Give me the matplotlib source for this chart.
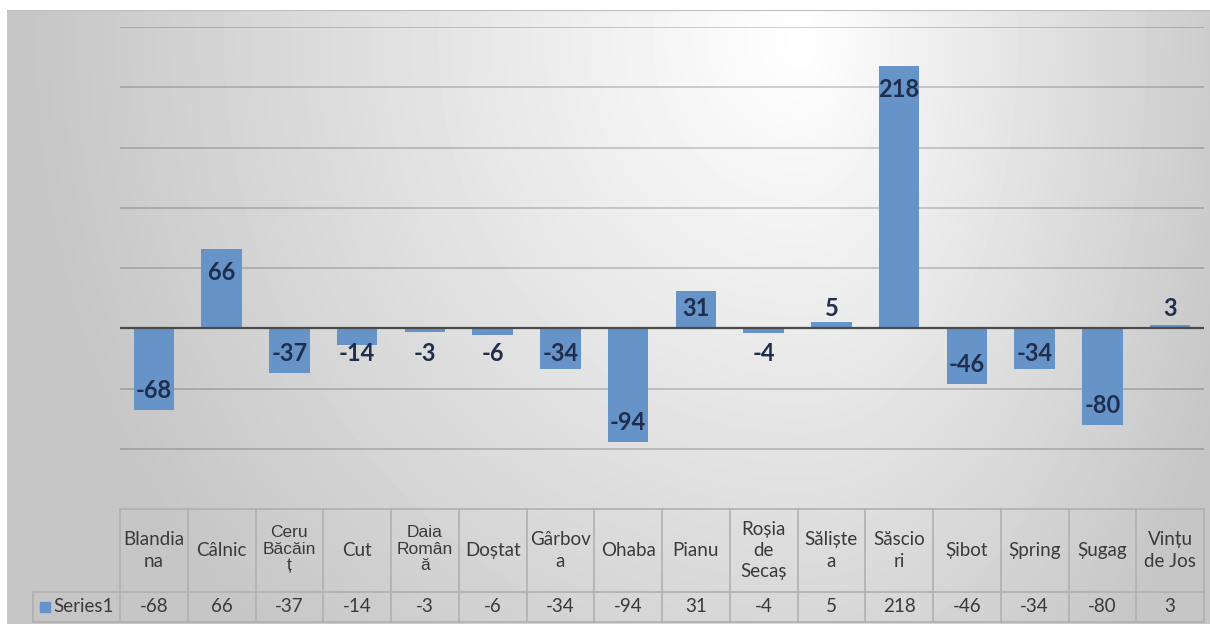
import numpy as np
import matplotlib
matplotlib.use("Agg")
import matplotlib.pyplot as plt

# village names, wrapped the way they appear in the table header
categories = ["Blandia\nna", "Câlnic", "Ceru\nBăcăin\nț", "Cut", "Daia\nRomân\nă",
              "Doștat", "Gârbov\na", "Ohaba", "Pianu", "Roșia\nde\nSecaș",
              "Săliște\na", "Săscio\nri", "Șibot", "Șpring", "Șugag", "Vințu\nde Jos"]
values = [-68, 66, -37, -14, -3, -6, -34, -94, 31, -4, 5, 218, -46, -34, -80, 3]
series_name = "Series1"
yticks = [-150, -100, -50, 0, 50, 100, 150, 200, 250]

BAR = "#6794c8"
LABEL = "#1f2e4c"
TXT = "#3a3a3a"
W, H = 1210, 624

fig = plt.figure(figsize=(W / 100, H / 100), dpi=100)
fig.patch.set_facecolor("white")

# radial grey-to-white background of the chart area
bg = fig.add_axes([7 / W, 0, 1 - 7 / W, (H - 10) / H], zorder=0)
xx, yy = np.meshgrid(np.arange(7, W), np.arange(10, H))
cx, cy = 800, 40
rx = np.where(xx < cx, 700.0, 420.0)
d = np.sqrt(((xx - cx) / rx) ** 2 + ((yy - cy) / 760.0) ** 2)
shade = np.clip(255 - 52 * d, 198, 255) / 255.0
bg.imshow(shade, cmap="gray", vmin=0, vmax=1, aspect="auto",
          extent=[0, 1, 0, 1], interpolation="bilinear")
bg.axhline(1, color="#bdbdbd", lw=1.5)
bg.set_axis_off()

ax = fig.add_axes([120 / W, (H - 509) / H, 1084 / W, 482 / H], zorder=1)
ax.patch.set_alpha(0)
x = np.arange(len(values))
ax.set_xlim(-0.5, len(values) - 0.5)
ax.set_ylim(yticks[0], yticks[-1])
for t in yticks[1:]:
    if t != 0:
        ax.axhline(t, color="black", alpha=0.2, lw=1.2, zorder=1)
ax.bar(x, values, width=0.6, color=BAR, zorder=2)
ax.axhline(0, color="#4a4a4a", lw=1.6, zorder=3)

# value labels just inside the bar end, pushed out for short bars
for xi, v in zip(x, values):
    if v >= 0:
        pos = max(v - 20, 16)
    else:
        pos = min(v + 16, -21)
    ax.text(xi, pos, str(v), ha="center", va="center", fontsize=17,
            fontweight="bold", color=LABEL, family="Lato", zorder=4)

for sp in ax.spines.values():
    sp.set_visible(False)
ax.set_xticks([])
ax.set_yticks([])

# data table below the plot
tr = ax.get_xaxis_transform()
y_top, y_mid, y_bot = 0.0, -83 / 482, -113 / 482
line_kw = dict(color="#b0b0b0", lw=1.2, transform=tr, clip_on=False)
ax.plot([-0.5, len(values) - 0.5], [y_top, y_top], **line_kw)
x_left = -0.5 - 87 / 67.75
ax.plot([x_left, len(values) - 0.5], [y_mid, y_mid], **line_kw)
ax.plot([x_left, len(values) - 0.5], [y_bot, y_bot], **line_kw)
ax.plot([x_left, x_left], [y_mid, y_bot], **line_kw)
for b in np.arange(len(values) + 1) - 0.5:
    ax.plot([b, b], [y_top, y_bot], **line_kw)

arial_cells = {2, 4}
for xi, name, v in zip(x, categories, values):
    if xi in arial_cells:
        ax.text(xi, (y_top + y_mid) / 2 + 0.003, name, transform=tr, ha="center",
                va="center", fontsize=12.5, family="Liberation Sans", color=TXT,
                linespacing=1.1)
    else:
        ax.text(xi, (y_top + y_mid) / 2, name, transform=tr, ha="center",
                va="center", fontsize=13.5, family="Lato", color=TXT,
                linespacing=1.3)
    ax.text(xi, (y_mid + y_bot) / 2, str(v), transform=tr, ha="center",
            va="center", fontsize=13.5, family="Lato", color=TXT)

ax.plot([x_left + 0.17], [(y_mid + y_bot) / 2], marker="s", ms=7, color=BAR,
        transform=tr, clip_on=False)
ax.text(x_left + 0.3, (y_mid + y_bot) / 2, series_name, transform=tr, ha="left",
        va="center", fontsize=13.5, family="Lato", color=TXT)

fig.savefig("out.png", dpi=100)
